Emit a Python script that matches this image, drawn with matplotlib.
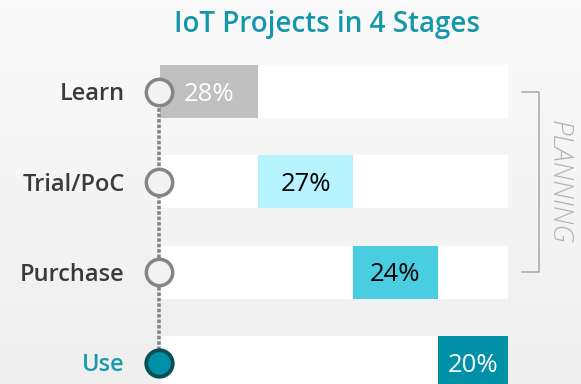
import numpy as np
import matplotlib.pyplot as plt
from matplotlib.colors import LinearSegmentedColormap

# data
stages = ['Learn', 'Trial/PoC', 'Purchase', 'Use']
values = [28, 27, 24, 20]
bar_colors = ['#c0c0c0', '#b7f3fc', '#48cde1', '#0091a9']
text_colors = ['white', 'black', 'black', 'white']
title = 'IoT Projects in 4 Stages'

plt.rcParams['font.family'] = ['Open Sans', 'DejaVu Sans']

fig = plt.figure(figsize=(5.81, 3.84), dpi=100)
ax = fig.add_axes([0, 0, 1, 1])
ax.set_xlim(-45.5, 119.8)
ax.set_ylim(3.238, -1.013)
ax.axis('off')

# soft gray background gradient
bg = LinearSegmentedColormap.from_list('bg', ['#fafafa', '#efefef'])
ax.imshow(np.linspace(0, 1, 100).reshape(-1, 1), cmap=bg, aspect='auto',
          extent=[-45.5, 119.8, 3.238, -1.013], zorder=0)

y = np.arange(len(stages))
lefts = np.concatenate([[0], np.cumsum(values)[:-1]])
total = sum(values)
h = 0.587

# white tracks then the stacked segments
ax.barh(y, total, left=0, height=h, color='white', zorder=1)
ax.barh(y, values, left=lefts, height=h, color=bar_colors, zorder=2)

for i, (v, l) in enumerate(zip(values, lefts)):
    ax.text(l + v / 2, i + 0.03, f'{v}%', ha='center', va='center',
            fontsize=18.5, color=text_colors[i], zorder=5)

# timeline
ax.plot([-0.3, -0.3], [0, len(stages) - 1], color='#868686', lw=2.6,
        ls=(0, (1.0, 0.5)), zorder=3)
ax.plot(np.full(3, -0.3), y[:3], 'o', ms=19, mfc='#f2f2f2', mec='#858585',
        mew=2.5, zorder=4)
ax.plot([-0.3], [y[3]], 'o', ms=19, mfc='#0091a9', mec='#0b4f55',
        mew=2.8, zorder=4)

for i, s in enumerate(stages):
    ax.text(-10, i + 0.03, s, ha='right', va='center', fontsize=17,
            fontweight='semibold',
            color='#1a98ad' if s == 'Use' else '#3a3a3a', zorder=5)

# planning bracket
ax.plot([103, 107.8, 107.8, 103], [0, 0, 2, 2], color='#a8a8a8', lw=1.1,
        zorder=3)
ax.text(113.6, 1, 'PLANNING', rotation=-90, ha='center', va='center',
        fontsize=20, style='italic', color='#b4b4b4', fontweight='light')

fig.text(0.563, 0.935, title, ha='center', va='center', fontsize=20,
         color='#1496ab', fontweight='semibold')

fig.savefig('out.png', dpi=100)
